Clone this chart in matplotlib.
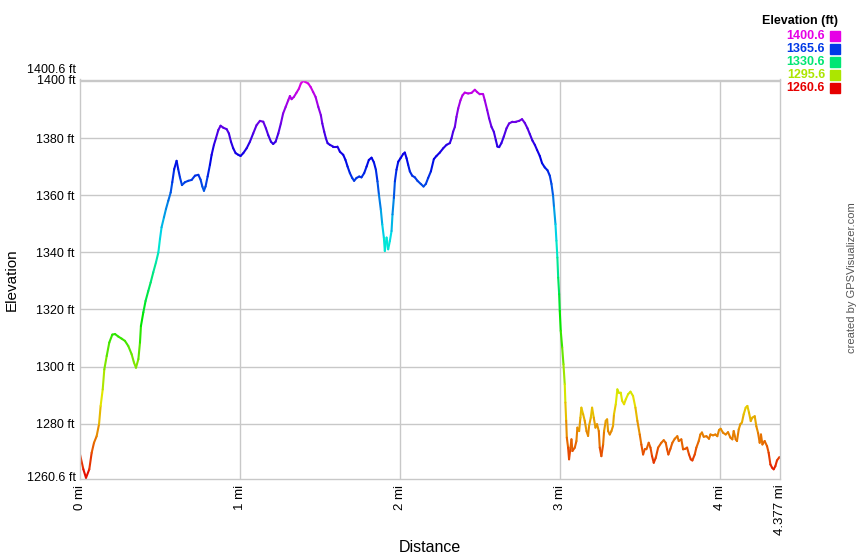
import matplotlib
matplotlib.use("Agg")
import matplotlib.pyplot as plt
import numpy as np
from matplotlib.collections import LineCollection
from matplotlib.colors import hsv_to_rgb

plt.rcParams['font.family'] = ['Liberation Sans', 'DejaVu Sans']

# distance (mi) and elevation (ft)
dist = [0.0, 0.021, 0.0375, 0.058, 0.073, 0.0875, 0.104, 0.119, 0.129, 0.142,
        0.152, 0.167, 0.183, 0.202, 0.219, 0.240, 0.260, 0.281, 0.302, 0.323,
        0.3375, 0.35, 0.365, 0.375, 0.381, 0.396, 0.41, 0.427, 0.442, 0.458,
        0.475, 0.49, 0.5, 0.51, 0.525, 0.5375, 0.552, 0.567, 0.577, 0.589,
        0.604, 0.614, 0.625, 0.6375, 0.656, 0.677, 0.698, 0.719, 0.74, 0.754,
        0.765, 0.775, 0.785, 0.798, 0.8125, 0.823, 0.8375, 0.85, 0.865, 0.879,
        0.896, 0.917, 0.931, 0.944, 0.958, 0.973, 0.99, 1.004, 1.021, 1.042,
        1.0625, 1.083, 1.104, 1.125, 1.146, 1.1625, 1.177, 1.194, 1.208, 1.223,
        1.24, 1.256, 1.27, 1.286, 1.302, 1.3125, 1.323, 1.3375, 1.354, 1.369,
        1.381, 1.396, 1.41, 1.427, 1.442, 1.458, 1.473, 1.49, 1.506, 1.515,
        1.527, 1.5375, 1.548, 1.5625, 1.583, 1.61, 1.625, 1.646, 1.66, 1.673,
        1.6875, 1.702, 1.714, 1.729, 1.746, 1.76, 1.777, 1.792, 1.806, 1.823,
        1.8375, 1.85, 1.86, 1.869, 1.881, 1.89, 1.9, 1.906, 1.917, 1.927,
        1.9375, 1.948, 1.954, 1.9625, 1.969, 1.979, 1.99, 2.004, 2.021, 2.031,
        2.042, 2.052, 2.0625, 2.077, 2.094, 2.11, 2.131, 2.148, 2.1625, 2.177,
        2.194, 2.2125, 2.229, 2.25, 2.271, 2.292, 2.3125, 2.323, 2.333, 2.344,
        2.354, 2.365, 2.379, 2.392, 2.406, 2.427, 2.448, 2.469, 2.483, 2.5,
        2.521, 2.531, 2.546, 2.558, 2.573, 2.5875, 2.6, 2.61, 2.621, 2.635,
        2.65, 2.667, 2.683, 2.704, 2.725, 2.746, 2.764, 2.781, 2.798, 2.8125,
        2.829, 2.844, 2.858, 2.875, 2.889, 2.906, 2.923, 2.9375, 2.948, 2.958,
        2.964, 2.973, 2.979, 2.985, 2.99, 2.996, 3.0, 3.006, 3.015, 3.023,
        3.031, 3.035, 3.04, 3.044, 3.052, 3.058, 3.067, 3.073, 3.079, 3.094,
        3.104, 3.11, 3.121, 3.129, 3.135, 3.146, 3.156, 3.167, 3.177, 3.183,
        3.194, 3.202, 3.2125, 3.223, 3.233, 3.244, 3.25, 3.26, 3.271, 3.277,
        3.2875, 3.296, 3.302, 3.3125, 3.323, 3.333, 3.339, 3.35, 3.36, 3.369,
        3.381, 3.39, 3.402, 3.4125, 3.427, 3.442, 3.458, 3.473, 3.485, 3.5,
        3.51, 3.521, 3.531, 3.542, 3.556, 3.567, 3.577, 3.5875, 3.6, 3.615,
        3.635, 3.65, 3.6625, 3.671, 3.679, 3.692, 3.704, 3.719, 3.735, 3.744,
        3.76, 3.771, 3.785, 3.796, 3.808, 3.819, 3.829, 3.844, 3.854, 3.869,
        3.879, 3.889, 3.9, 3.917, 3.933, 3.942, 3.958, 3.973, 3.985, 3.996,
        4.006, 4.021, 4.0375, 4.052, 4.067, 4.079, 4.0875, 4.1, 4.108, 4.119,
        4.129, 4.139, 4.15, 4.1625, 4.173, 4.183, 4.194, 4.204, 4.219, 4.229,
        4.24, 4.25, 4.258, 4.267, 4.281, 4.296, 4.306, 4.317, 4.327, 4.3375,
        4.348, 4.358, 4.371, 4.377]
elev = [1269.2, 1264.0, 1261.0, 1264.0, 1269.8, 1273.3, 1275.6, 1279.8, 1286.2, 1292.0,
        1299.0, 1303.7, 1308.4, 1311.2, 1311.4, 1310.5, 1309.8, 1309.0, 1307.2, 1304.3,
        1301.4, 1299.6, 1302.6, 1308.4, 1314.2, 1319.0, 1323.0, 1326.5, 1329.5, 1333.0,
        1336.5, 1340.0, 1344.7, 1348.8, 1352.3, 1355.2, 1358.1, 1361.0, 1364.6, 1369.2,
        1372.1, 1369.2, 1366.3, 1363.6, 1364.6, 1365.1, 1365.4, 1366.9, 1367.2, 1365.5,
        1363.1, 1361.6, 1363.1, 1366.6, 1370.7, 1374.2, 1377.7, 1380.0, 1382.9, 1384.4,
        1383.7, 1383.2, 1381.7, 1378.8, 1376.5, 1374.8, 1374.2, 1373.8, 1374.8, 1376.5,
        1378.8, 1381.7, 1384.6, 1386.1, 1385.8, 1383.5, 1381.1, 1378.8, 1378.0, 1378.8,
        1381.7, 1385.2, 1388.7, 1391.0, 1393.3, 1394.8, 1393.7, 1394.5, 1396.0, 1397.4,
        1399.2, 1400.1, 1399.7, 1399.2, 1398.0, 1396.2, 1394.5, 1391.0, 1388.1, 1385.2,
        1382.3, 1380.0, 1378.3, 1377.7, 1377.1, 1377.1, 1375.3, 1374.2, 1372.4, 1370.1,
        1367.8, 1366.1, 1365.1, 1366.1, 1366.6, 1366.3, 1367.8, 1370.1, 1372.4, 1373.2,
        1371.6, 1369.0, 1364.9, 1360.3, 1355.0, 1349.8, 1345.2, 1340.5, 1345.2, 1341.1,
        1344.0, 1347.5, 1353.3, 1359.1, 1364.9, 1369.0, 1371.8, 1373.0, 1374.5, 1375.0,
        1373.0, 1370.7, 1368.4, 1366.9, 1366.3, 1365.1, 1364.0, 1363.1, 1364.0, 1366.1,
        1368.4, 1372.7, 1373.8, 1375.0, 1376.5, 1377.7, 1378.3, 1380.0, 1382.3, 1384.0,
        1387.5, 1390.5, 1393.3, 1395.1, 1396.0, 1395.7, 1395.9, 1397.0, 1396.2, 1395.4,
        1395.4, 1393.3, 1389.9, 1387.0, 1384.0, 1382.3, 1379.4, 1377.1, 1376.9, 1378.3,
        1380.6, 1383.5, 1385.2, 1385.8, 1385.8, 1386.1, 1386.7, 1385.4, 1383.5, 1381.5,
        1379.2, 1377.7, 1375.9, 1373.8, 1371.3, 1369.8, 1368.8, 1366.9, 1364.0, 1359.9,
        1355.8, 1349.9, 1344.1, 1338.2, 1331.2, 1325.4, 1319.5, 1312.5, 1306.7, 1300.8,
        1293.8, 1287.4, 1281.0, 1275.1, 1271.6, 1267.5, 1271.6, 1274.5, 1270.4, 1271.6,
        1273.9, 1278.6, 1277.4, 1282.1, 1285.6, 1283.3, 1281.0, 1277.4, 1275.7, 1279.2,
        1282.1, 1285.6, 1282.1, 1278.6, 1279.8, 1277.4, 1271.6, 1268.6, 1272.7, 1277.4,
        1281.0, 1281.5, 1277.4, 1276.2, 1277.4, 1279.2, 1283.3, 1286.8, 1292.0, 1290.9,
        1290.9, 1288.0, 1286.8, 1288.5, 1290.3, 1291.2, 1289.7, 1285.6, 1281.0, 1276.2,
        1272.7, 1269.2, 1271.0, 1271.0, 1273.3, 1271.6, 1268.6, 1266.3, 1268.0, 1271.6,
        1273.3, 1274.2, 1273.3, 1271.0, 1269.2, 1271.2, 1273.3, 1274.7, 1275.6, 1273.9,
        1274.5, 1271.0, 1271.2, 1271.6, 1269.2, 1267.5, 1267.1, 1269.2, 1271.6, 1273.9,
        1276.2, 1276.9, 1275.4, 1275.6, 1274.7, 1276.2, 1275.9, 1276.2, 1275.6, 1277.8,
        1278.2, 1276.8, 1276.2, 1277.0, 1275.1, 1274.5, 1277.4, 1274.5, 1273.9, 1278.0,
        1279.8, 1280.4, 1283.3, 1285.6, 1286.2, 1283.9, 1280.9, 1282.1, 1282.6, 1279.1,
        1276.7, 1273.3, 1276.2, 1272.7, 1273.9, 1272.1, 1269.8, 1265.7, 1264.6, 1264.0,
        1265.1, 1267.1, 1268.1, 1268.3]

ymin, ymax = 1260.6, 1400.6
xmax = 4.377
yticks = [1280, 1300, 1320, 1340, 1360, 1380, 1400]
xticks = [0, 1, 2, 3, 4, 4.377]
xtick_labels = ['0 mi', '1 mi', '2 mi', '3 mi', '4 mi', '4.377 mi']
legend_vals = [1400.6, 1365.6, 1330.6, 1295.6, 1260.6]


def elev_color(e):
    f = np.clip((np.asarray(e) - ymin) / (ymax - ymin), 0, 1)
    hsv = np.stack([f * 300 / 360, np.ones_like(f), np.full_like(f, 0.9)], axis=-1)
    return hsv_to_rgb(hsv)


fig = plt.figure(figsize=(8.6, 5.6), dpi=100)
ax = fig.add_axes([80 / 860, 1 - 479 / 560, 700 / 860, (479 - 79.5) / 560])

x = np.array(dist)
y = np.array(elev)
pts = np.column_stack([x, y]).reshape(-1, 1, 2)
segs = np.concatenate([pts[:-1], pts[1:]], axis=1)
lc = LineCollection(segs, colors=elev_color((y[:-1] + y[1:]) / 2), linewidths=1.5,
                    capstyle='round', joinstyle='round')
ax.add_collection(lc)

ax.set_xlim(0, xmax)
ax.set_ylim(ymin, ymax)

for t in yticks:
    ax.axhline(t, color='#c8c8c8', lw=1, zorder=0)
for t in xticks[1:-1]:
    ax.axvline(t, color='#c8c8c8', lw=1, zorder=0)
for s in ax.spines.values():
    s.set_color('#c8c8c8')
    s.set_linewidth(1)

ax.set_yticks(yticks)
ax.set_yticklabels([f'{t} ft' for t in yticks[:-1]] + [''], fontsize=9)
ax.set_xticks(xticks)
ax.set_xticklabels(xtick_labels, rotation=90, fontsize=9.5)
ax.tick_params(length=0, pad=4)

# extreme labels on the y axis
ax.text(-0.006, 1400.2, '1400 ft', transform=ax.get_yaxis_transform(),
        ha='right', va='center', fontsize=9)
ax.text(-0.006, 1404.0, '1400.6 ft', transform=ax.get_yaxis_transform(),
        ha='right', va='center', fontsize=9)
ax.text(-0.006, 1261.0, '1260.6 ft', transform=ax.get_yaxis_transform(),
        ha='right', va='center', fontsize=9)

fig.text(12 / 860, 1 - 280 / 560, 'Elevation', rotation=90, ha='center', va='center', fontsize=11)
fig.text(430 / 860, 1 - 548 / 560, 'Distance', ha='center', va='center', fontsize=11.5)
fig.text(852 / 860, 1 - 278 / 560, 'created by GPSVisualizer.com', rotation=90,
         ha='center', va='center', fontsize=8, color='#555555')

# elevation legend
fig.text(838 / 860, 1 - 21 / 560, 'Elevation (ft)', ha='right', va='center',
         fontsize=9, fontweight='bold')
for i, v in enumerate(legend_vals):
    yc = 1 - (36 + 13 * i) / 560
    c = elev_color(v)
    fig.text(825 / 860, yc, f'{v}', ha='right', va='center', fontsize=9,
             fontweight='bold', color=c)
    fig.patches.append(plt.Rectangle((830 / 860, yc - 5 / 560), 10 / 860, 10 / 560,
                                     transform=fig.transFigure, color=c, figure=fig))

fig.savefig('out.png', dpi=100)
